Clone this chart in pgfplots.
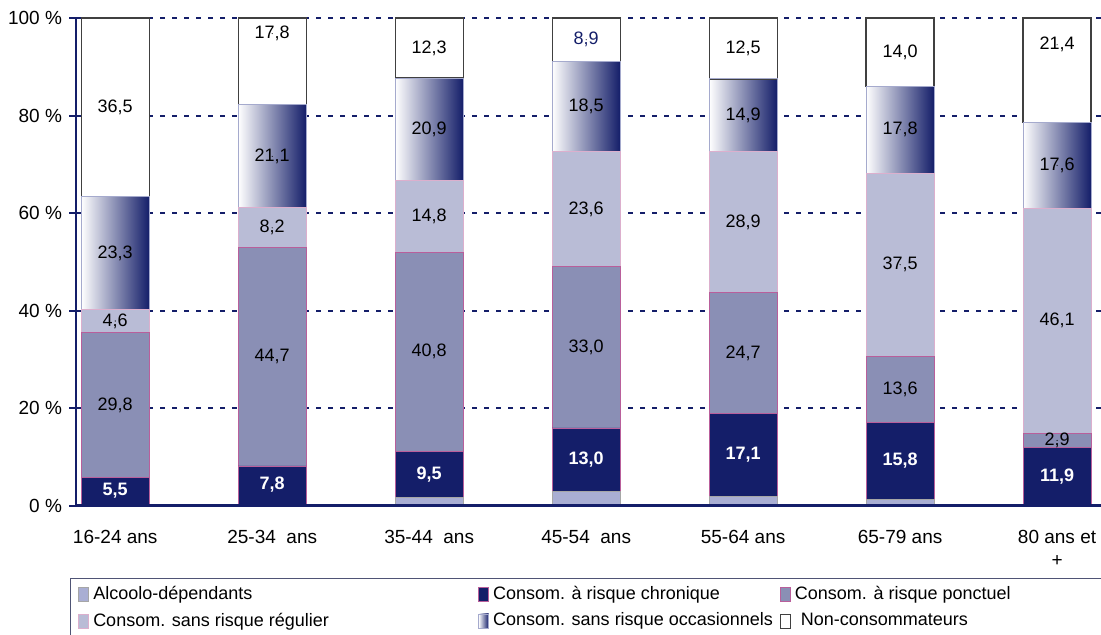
\documentclass[border=0pt]{standalone}
\usepackage{fontspec}
\setmainfont{Liberation Sans}
\usepackage{pgfplots}
\usepackage{pgfplotstable}
\pgfplotsset{compat=1.18}
\definecolor{navy}{RGB}{20,30,105}
\definecolor{alc}{RGB}{169,174,211}
\definecolor{ponc}{RGB}{138,143,181}
\definecolor{regu}{RGB}{185,188,214}
\definecolor{pinkb}{RGB}{185,95,155}
\definecolor{occb}{RGB}{165,170,205}

% values per age group (%)
\pgfplotstableread{
x a c p r o n
0 0.3 5.5 29.8 4.6 23.3 36.5
1 0.4 7.8 44.7 8.2 21.1 17.8
2 1.7 9.5 40.8 14.8 20.9 12.3
3 3.0 13.0 33.0 23.6 18.5 8.9
4 1.9 17.1 24.7 28.9 14.9 12.5
5 1.3 15.8 13.6 37.5 17.8 14.0
6 0.1 11.9 2.9 46.1 17.6 21.4
}\data

\pgfplotstableread{
x y l
0 3.05 5,5
1 4.3 7,8
2 6.45 9,5
3 9.5 13,0
4 10.45 17,1
5 9.2 15,8
6 6.05 11,9
}\labwhite

\pgfplotstableread{
x y l
0 20.7 29,8
0 37.9 4,6
0 51.85 23,3
0 81.75 36,5
1 30.55 44,7
1 57.0 8,2
1 71.65 21,1
1 96.8 17,8
2 31.6 40,8
2 59.4 14,8
2 77.25 20,9
2 93.85 12,3
3 32.5 33,0
3 60.8 23,6
3 81.85 18,5
4 31.35 24,7
4 58.15 28,9
4 80.05 14,9
4 93.75 12,5
5 23.9 13,6
5 49.45 37,5
5 77.1 17,8
5 93.0 14,0
6 13.45 2,9
6 37.95 46,1
6 69.8 17,6
6 94.5 21,4
}\labblack

\pgfplotstableread{
x y l
3 95.55 8,9
}\labnavy

\pgfplotsset{
  common/.style={
    at={(38pt,64.5pt)}, anchor=south west,
    scale only axis, width=512.5pt, height=244pt,
    xmin=-0.25, xmax=6.28, ymin=0, ymax=100, clip=false,
  },
  occbar/.style={bar shift=0pt, left color=white, right color=navy, draw=none},
  lab/.style={only marks, mark=*, mark size=0.01pt, mark options={draw=none, fill=none},
    nodes near coords, point meta=explicit symbolic},
}

\begin{document}
\begin{tikzpicture}
\useasboundingbox (0,0) rectangle (550.5pt,317.5pt);
% background: grid and shaded "occasionnels" bars (one path per bar)
\begin{axis}[
  common,
  ybar, bar width=34pt,
  axis line style={draw=none},
  xtick=\empty,
  ytick={20,40,60,80,100},
  yticklabels={},
  ytick style={draw=none},
  ymajorgrids,
  major grid style={navy, line width=1pt, dash pattern=on 2.5pt off 3.5pt},
]
\addplot[occbar] coordinates {(0,63.5)};
\addplot[occbar] coordinates {(1,82.2)};
\addplot[occbar] coordinates {(2,87.7)};
\addplot[occbar] coordinates {(3,91.1)};
\addplot[occbar] coordinates {(4,87.5)};
\addplot[occbar] coordinates {(5,86.0)};
\addplot[occbar] coordinates {(6,78.6)};
\end{axis}
% main stacked bars
\begin{axis}[
  common,
  ybar stacked, bar width=34pt,
  axis on top,
  axis lines*=left,
  x axis line style={navy, line width=1.5pt},
  y axis line style={navy, line width=1pt},
  xtick={0,...,6},
  xticklabels={16-24 ans, 25-34~~ans, 35-44~~ans, 45-54~~ans, 55-64 ans, 65-79 ans, {80 ans et\\+}},
  xtick style={draw=none},
  ytick={0,20,...,100},
  yticklabels={0 \%,20 \%,40 \%,60 \%,80 \%,100 \%},
  ytick style={navy, line width=1pt},
  tick align=outside, major tick length=3.5pt,
  tick label style={font=\fontsize{9.5}{11.5}\selectfont},
  xticklabel style={align=center, yshift=-5pt},
  legend columns=3,
  legend cell align=left,
  legend style={at={(-0.006,0)}, anchor=north west, yshift=-36pt,
    draw=navy!45!gray, line width=0.6pt,
    font=\fontsize{9}{11.5}\selectfont,
    inner xsep=4pt, inner ysep=2pt, row sep=1pt,
    /tikz/every even column/.append style={column sep=0pt}},
  legend image code/.code={\draw[#1, line width=0.4pt] (0pt,-3.5pt) rectangle (5pt,3.5pt);},
]
\addplot[fill=alc, draw=gray!70, line width=0.5pt] table[x=x,y=a] {\data};
\addlegendentry{\makebox[190.5pt][l]{Alcoolo-dépendants}}
\addplot[fill=navy, draw=pinkb, line width=0.4pt] table[x=x,y=c] {\data};
\addlegendentry{\makebox[141.5pt][l]{Consom. à risque chronique}}
\addplot[fill=ponc, draw=pinkb, line width=0.4pt] table[x=x,y=p] {\data};
\addlegendentry{\makebox[149.5pt][l]{Consom. à risque ponctuel}}
\addplot[fill=regu, draw=pinkb!50!white, line width=0.4pt] table[x=x,y=r] {\data};
\addlegendentry{\makebox[190.5pt][l]{Consom. sans risque régulier}}
\addplot[fill=none, draw=occb, line width=0.5pt, forget plot] table[x=x,y=o] {\data};
\addlegendimage{left color=white, right color=navy, draw=occb}
\addlegendentry{\makebox[141.5pt][l]{Consom. sans risque occasionnels}}
\addplot[fill=white, draw=black!75, line width=0.6pt] table[x=x,y=n] {\data};
\addlegendentry{\makebox[149.5pt][l]{\hspace{3pt}Non-consommateurs}}
\end{axis}
% value labels
\begin{axis}[common, hide axis]
\addplot[lab, nodes near coords style={anchor=center, text=white, font=\bfseries\fontsize{9}{11}\selectfont}]
  table[x=x, y=y, meta=l] {\labwhite};
\addplot[lab, nodes near coords style={anchor=center, text=black, font=\fontsize{9}{11}\selectfont}]
  table[x=x, y=y, meta=l] {\labblack};
\addplot[lab, nodes near coords style={anchor=center, text=navy, font=\fontsize{9}{11}\selectfont}]
  table[x=x, y=y, meta=l] {\labnavy};
\end{axis}
\end{tikzpicture}
\end{document}
